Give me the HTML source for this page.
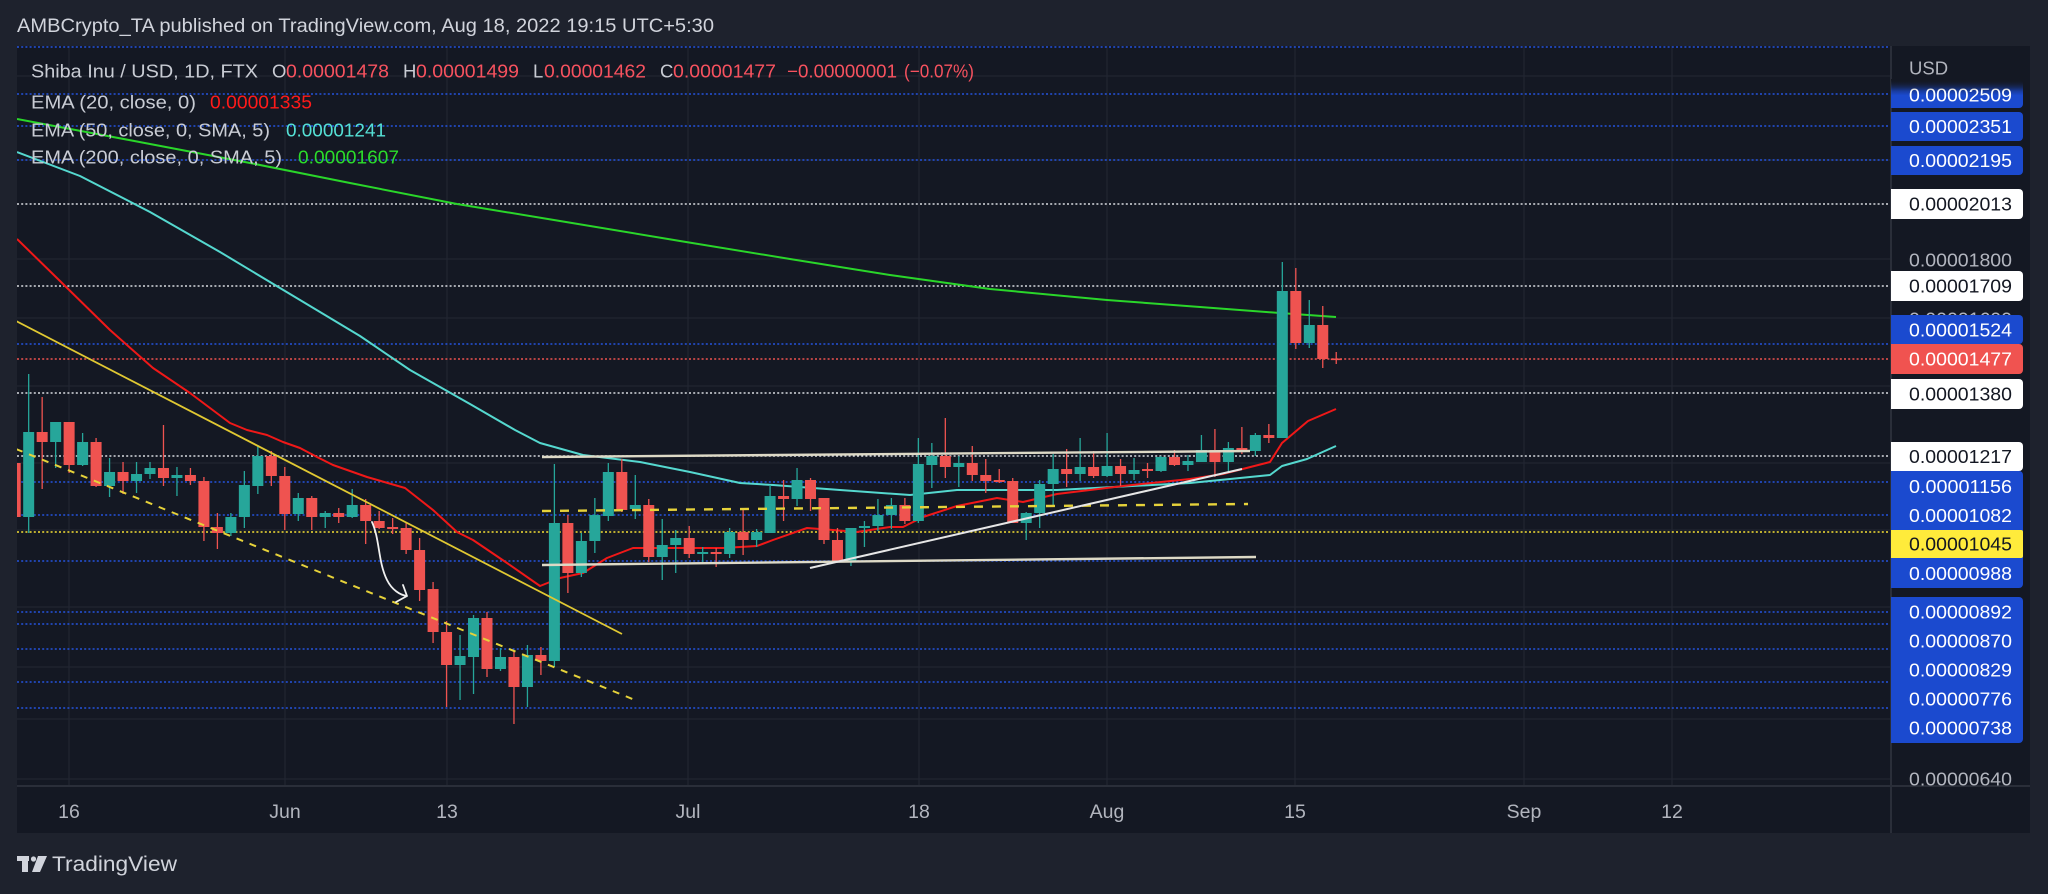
<!DOCTYPE html>
<html><head><meta charset="utf-8"><style>
html,body{margin:0;padding:0;background:#1e222d;}
svg{display:block;}
text{font-family:"Liberation Sans",sans-serif;}
</style></head><body>
<svg width="2048" height="894" viewBox="0 0 2048 894" xmlns="http://www.w3.org/2000/svg">
<defs>
<clipPath id="pane"><rect x="17" y="46" width="1874" height="740"/></clipPath>
<clipPath id="axis"><rect x="1891" y="46" width="139" height="740"/></clipPath>
<linearGradient id="fadeBlue" x1="0" y1="0" x2="0" y2="1">
<stop offset="0" stop-color="#1b4acf" stop-opacity="0"/>
<stop offset="0.55" stop-color="#1b4acf" stop-opacity="1"/>
<stop offset="1" stop-color="#1b4acf" stop-opacity="1"/>
</linearGradient>
<linearGradient id="fadeBg" x1="0" y1="0" x2="0" y2="1">
<stop offset="0" stop-color="#141823" stop-opacity="1"/>
<stop offset="1" stop-color="#141823" stop-opacity="0"/>
</linearGradient>
</defs>
<rect x="0" y="0" width="2048" height="894" fill="#1e222d"/>
<rect x="17" y="46" width="2013" height="787" fill="#141823"/>

<!-- header -->
<text x="17" y="32" font-size="19.5" fill="#d1d4dc" textLength="697" lengthAdjust="spacingAndGlyphs">AMBCrypto_TA published on TradingView.com, Aug 18, 2022 19:15 UTC+5:30</text>

<g clip-path="url(#pane)">
<!-- grid -->
<g stroke="#232733" stroke-width="1">
<line x1="69" y1="46" x2="69" y2="786"/><line x1="285" y1="46" x2="285" y2="786"/><line x1="447" y1="46" x2="447" y2="786"/><line x1="688" y1="46" x2="688" y2="786"/><line x1="919" y1="46" x2="919" y2="786"/><line x1="1107" y1="46" x2="1107" y2="786"/><line x1="1295" y1="46" x2="1295" y2="786"/><line x1="1524" y1="46" x2="1524" y2="786"/><line x1="1672" y1="46" x2="1672" y2="786"/>
<line x1="17" y1="76" x2="1891" y2="76"/><line x1="17" y1="160" x2="1891" y2="160"/><line x1="17" y1="259" x2="1891" y2="259"/><line x1="17" y1="318" x2="1891" y2="318"/><line x1="17" y1="386" x2="1891" y2="386"/><line x1="17" y1="463" x2="1891" y2="463"/><line x1="17" y1="530" x2="1891" y2="530"/><line x1="17" y1="607" x2="1891" y2="607"/><line x1="17" y1="667" x2="1891" y2="667"/><line x1="17" y1="719" x2="1891" y2="719"/><line x1="17" y1="779" x2="1891" y2="779"/>
</g>
<!-- dotted horizontal lines -->
<g stroke="#2453dc" stroke-width="1.6" stroke-dasharray="2 2.2">
<line x1="17" y1="47" x2="1891" y2="47"/>
<line x1="17" y1="94" x2="1891" y2="94"/>
<line x1="17" y1="126" x2="1891" y2="126"/>
<line x1="17" y1="160" x2="1891" y2="160"/>
<line x1="17" y1="344" x2="1891" y2="344"/>
<line x1="17" y1="482" x2="1891" y2="482"/>
<line x1="17" y1="515" x2="1891" y2="515"/>
<line x1="17" y1="561" x2="1891" y2="561"/>
<line x1="17" y1="612" x2="1891" y2="612"/>
<line x1="17" y1="624" x2="1891" y2="624"/>
<line x1="17" y1="649" x2="1891" y2="649"/>
<line x1="17" y1="682" x2="1891" y2="682"/>
<line x1="17" y1="708" x2="1891" y2="708"/>
</g>
<g stroke="#d8dae0" stroke-width="1.6" stroke-dasharray="2 2.2">
<line x1="17" y1="204" x2="1891" y2="204"/>
<line x1="17" y1="286" x2="1891" y2="286"/>
<line x1="17" y1="393" x2="1891" y2="393"/>
<line x1="17" y1="456" x2="1891" y2="456"/>
</g>
<line x1="17" y1="359" x2="1891" y2="359" stroke="#ef5350" stroke-width="1.4" stroke-dasharray="2 2.2"/>
<line x1="17" y1="532" x2="1891" y2="532" stroke="#f5e035" stroke-width="1.6" stroke-dasharray="2 2.2"/>

<!-- EMAs -->
<g fill="none" stroke-width="2" stroke-linejoin="round">
<path stroke="#2ad62a" d="M17 119 L129 140 L250 163 L350 183 L457 204 L560 221 L680 241 L790 259 L890 275 L990 289 L1107 300 L1200 307 L1280 313 L1336 317"/>
<path stroke="#55d8cf" d="M17 152 L80 176 L150 212 L220 252 L300 300 L360 336 L410 370 L470 404 L515 430 L540 443 L583 455 L640 462 L690 472 L740 483 L773 485 L840 490 L910 495 L957 490 L1057 490 L1190 483 L1270 475 L1282 466 L1307 459 L1336 446"/>
<path stroke="#f01818" d="M17 239 L60 281 L110 330 L153 368 L190 393 L230 423 L247 430 L267 435 L283 442 L300 448 L317 457 L333 465 L367 477 L405 488 L433 510 L457 532 L473 540 L507 563 L540 586 L560 578 L583 573 L607 558 L633 548 L723 548 L757 546 L773 540 L807 528 L833 530 L857 532 L890 527 L903 527 L923 517 L957 506 L997 498 L1023 502 L1057 494 L1123 486 L1190 479 L1223 474 L1270 462 L1282 443 L1308 421 L1336 409"/>
</g>

<!-- teal candles -->
<path fill="none" stroke="#26a69a" stroke-width="1.3" d="M28.68 374V533M55.64 422V468M82.6 433V466M109.56 458V497M136.52 462V493M150 462V479M176.96 467V496M230.88 513V536M244.36 471V528M257.84 445V494M298.28 493V521M325.24 511V528M352.2 489V518M460.04 635V700M473.52 615V694M500.48 648V671M527.44 645V707M554.4 464V667M581.36 533V577M594.84 498V553M608.32 463V521M635.28 475V519M662.24 519V580M675.72 530V573M702.68 547V562M729.64 528V558M756.6 529V547M770.08 485V533M797.04 468V506M850.96 528V566M864.44 521V547M877.92 499V531M891.4 498V529M918.36 438V523M931.84 443V488M958.8 456V487M1026.2 512V540M1039.68 480V528M1053.16 454V506M1080.12 438V481M1107.08 433V477M1134.04 458V480M1161 456V472M1187.96 455V471M1201.44 435V462M1228.4 442V472M1255.36 433V456M1282.32 262V438M1309.28 300V348"/>
<g fill="#26a69a">
<rect x="23.18" y="432" width="11" height="85"/><rect x="50.14" y="422" width="11" height="20"/><rect x="77.1" y="442" width="11" height="23"/><rect x="104.06" y="472" width="11" height="14"/><rect x="131.02" y="474" width="11" height="7"/><rect x="144.5" y="468" width="11" height="6"/><rect x="171.46" y="475" width="11" height="3"/><rect x="225.38" y="517" width="11" height="16"/><rect x="238.86" y="485" width="11" height="32"/><rect x="252.34" y="456" width="11" height="30"/><rect x="292.78" y="498" width="11" height="16"/><rect x="319.74" y="513" width="11" height="4"/><rect x="346.7" y="505" width="11" height="12"/><rect x="454.54" y="656" width="11" height="9"/><rect x="468.02" y="618" width="11" height="39"/><rect x="494.98" y="657" width="11" height="12"/><rect x="521.94" y="655" width="11" height="32"/><rect x="548.9" y="523" width="11" height="138"/><rect x="575.86" y="541" width="11" height="32"/><rect x="589.34" y="515" width="11" height="26"/><rect x="602.82" y="472" width="11" height="44"/><rect x="629.78" y="505" width="11" height="4"/><rect x="656.74" y="545" width="11" height="12"/><rect x="670.22" y="538" width="11" height="7"/><rect x="697.18" y="552" width="11" height="2"/><rect x="724.14" y="532" width="11" height="22"/><rect x="751.1" y="532" width="11" height="8"/><rect x="764.58" y="496" width="11" height="37"/><rect x="791.54" y="480" width="11" height="19"/><rect x="845.46" y="528" width="11" height="33"/><rect x="858.94" y="526" width="11" height="2"/><rect x="872.42" y="515" width="11" height="11"/><rect x="885.9" y="505" width="11" height="10"/><rect x="912.86" y="464" width="11" height="57"/><rect x="926.34" y="456" width="11" height="9"/><rect x="953.3" y="463" width="11" height="4"/><rect x="1020.7" y="513" width="11" height="10"/><rect x="1034.18" y="484" width="11" height="29"/><rect x="1047.66" y="469" width="11" height="15"/><rect x="1074.62" y="467" width="11" height="7"/><rect x="1101.58" y="466" width="11" height="10"/><rect x="1128.54" y="470" width="11" height="4"/><rect x="1155.5" y="457" width="11" height="14"/><rect x="1182.46" y="461" width="11" height="4"/><rect x="1195.94" y="450" width="11" height="12"/><rect x="1222.9" y="448" width="11" height="14"/><rect x="1249.86" y="435" width="11" height="16"/><rect x="1276.82" y="291" width="11" height="147"/><rect x="1303.78" y="325" width="11" height="18"/>
</g>
<!-- red candles -->
<path fill="none" stroke="#ef5350" stroke-width="1.3" d="M15.2 455V525M42.16 397V489M69.12 422V473M96.08 438V487M123.04 462V494M163.48 425V486M190.44 468V485M203.92 477V541M217.4 513V549M271.32 451V486M284.8 467V530M311.76 496V530M338.72 508V523M365.68 499V544M379.16 511V529M392.64 518V534M406.12 523V554M419.6 538V601M433.08 582V643M446.56 621V707M487 612V677M513.96 651V724M540.92 647V675M567.88 515V593M621.8 459V512M648.76 499V562M689.2 526V558M716.16 548V567M743.12 509V555M783.56 480V521M810.52 478V511M824 498V544M837.48 528V562M904.88 498V524M945.32 418V478M972.28 446V481M985.76 459V493M999.24 469V483M1012.72 478V523M1066.64 449V487M1093.6 451V478M1120.56 459V486M1147.52 463V478M1174.48 450V466M1214.92 429V477M1241.88 427V454M1268.84 424V443M1295.8 268V349M1322.76 306V368M1336.24 352V364"/>
<g fill="#ef5350">
<rect x="9.7" y="463" width="11" height="54"/><rect x="36.66" y="432" width="11" height="10"/><rect x="63.62" y="422" width="11" height="43"/><rect x="90.58" y="442" width="11" height="44"/><rect x="117.54" y="472" width="11" height="9"/><rect x="157.98" y="468" width="11" height="10"/><rect x="184.94" y="475" width="11" height="6"/><rect x="198.42" y="481" width="11" height="46"/><rect x="211.9" y="527" width="11" height="6"/><rect x="265.82" y="456" width="11" height="20"/><rect x="279.3" y="476" width="11" height="38"/><rect x="306.26" y="498" width="11" height="19"/><rect x="333.22" y="513" width="11" height="4"/><rect x="360.18" y="505" width="11" height="16"/><rect x="373.66" y="521" width="11" height="7"/><rect x="387.14" y="527" width="11" height="2"/><rect x="400.62" y="528" width="11" height="22"/><rect x="414.1" y="550" width="11" height="40"/><rect x="427.58" y="589" width="11" height="43"/><rect x="441.06" y="632" width="11" height="33"/><rect x="481.5" y="618" width="11" height="51"/><rect x="508.46" y="657" width="11" height="30"/><rect x="535.42" y="655" width="11" height="6"/><rect x="562.38" y="523" width="11" height="50"/><rect x="616.3" y="472" width="11" height="38"/><rect x="643.26" y="505" width="11" height="52"/><rect x="683.7" y="538" width="11" height="16"/><rect x="710.66" y="552" width="11" height="2"/><rect x="737.62" y="532" width="11" height="8"/><rect x="778.06" y="496" width="11" height="3"/><rect x="805.02" y="480" width="11" height="19"/><rect x="818.5" y="498" width="11" height="42"/><rect x="831.98" y="540" width="11" height="21"/><rect x="899.38" y="505" width="11" height="16"/><rect x="939.82" y="456" width="11" height="11"/><rect x="966.78" y="463" width="11" height="12"/><rect x="980.26" y="475" width="11" height="6"/><rect x="993.74" y="480" width="11" height="2"/><rect x="1007.22" y="481" width="11" height="42"/><rect x="1061.14" y="469" width="11" height="5"/><rect x="1088.1" y="467" width="11" height="9"/><rect x="1115.06" y="466" width="11" height="8"/><rect x="1142.02" y="469" width="11" height="2"/><rect x="1168.98" y="457" width="11" height="8"/><rect x="1209.42" y="450" width="11" height="12"/><rect x="1236.38" y="448" width="11" height="4"/><rect x="1263.34" y="435" width="11" height="3"/><rect x="1290.3" y="291" width="11" height="52"/><rect x="1317.26" y="325" width="11" height="34"/><rect x="1330.74" y="358.5" width="11" height="1.6"/>
</g>

<!-- drawings -->
<line x1="16" y1="321" x2="622" y2="634" stroke="#e0c832" stroke-width="1.8"/>
<line x1="16" y1="449" x2="635" y2="700" stroke="#e6d23a" stroke-width="2" stroke-dasharray="7 7"/>
<line x1="542" y1="511" x2="1248" y2="504" stroke="#e6d23a" stroke-width="2.4" stroke-dasharray="9 9"/>
<line x1="542" y1="457" x2="1250" y2="451" stroke="#ddd9c6" stroke-width="2.4"/>
<line x1="542" y1="565" x2="1256" y2="557" stroke="#ddd9c6" stroke-width="2.4"/>
<line x1="810" y1="568" x2="1242" y2="469" stroke="#e6e6e6" stroke-width="2"/>
<path d="M372 522 C380 540 378 562 387 580 C392 590 400 595 407 596 M403 585 L407 596 L396 602" fill="none" stroke="#f0f0f0" stroke-width="1.8" stroke-linecap="round" stroke-linejoin="round"/>
</g>

<!-- borders -->
<line x1="17" y1="786" x2="2030" y2="786" stroke="#2a2e39" stroke-width="2"/>
<line x1="1891" y1="46" x2="1891" y2="833" stroke="#2a2e39" stroke-width="2"/>

<!-- legend -->
<g font-size="18.5">
<text x="31" y="77.5" fill="#c9ccd4" textLength="227" lengthAdjust="spacingAndGlyphs">Shiba Inu / USD, 1D, FTX</text>
<text x="272" y="77.5" fill="#c9ccd4">O</text>
<text x="286" y="77.5" fill="#f7525f" textLength="103" lengthAdjust="spacingAndGlyphs">0.00001478</text>
<text x="403" y="77.5" fill="#c9ccd4">H</text>
<text x="416" y="77.5" fill="#f7525f" textLength="103" lengthAdjust="spacingAndGlyphs">0.00001499</text>
<text x="533" y="77.5" fill="#c9ccd4">L</text>
<text x="544" y="77.5" fill="#f7525f" textLength="102" lengthAdjust="spacingAndGlyphs">0.00001462</text>
<text x="660" y="77.5" fill="#c9ccd4">C</text>
<text x="673" y="77.5" fill="#f7525f" textLength="103" lengthAdjust="spacingAndGlyphs">0.00001477</text>
<text x="787" y="77.5" fill="#f7525f" textLength="110" lengthAdjust="spacingAndGlyphs">−0.00000001</text>
<text x="904" y="77.5" fill="#f7525f" textLength="70" lengthAdjust="spacingAndGlyphs">(−0.07%)</text>
<text x="31" y="108.5" fill="#c9ccd4" textLength="165" lengthAdjust="spacingAndGlyphs">EMA (20, close, 0)</text>
<text x="210" y="108.5" fill="#ff1a1a" textLength="102" lengthAdjust="spacingAndGlyphs">0.00001335</text>
<text x="31" y="136.5" fill="#c9ccd4" textLength="239" lengthAdjust="spacingAndGlyphs">EMA (50, close, 0, SMA, 5)</text>
<text x="286" y="136.5" fill="#55e0d5" textLength="100" lengthAdjust="spacingAndGlyphs">0.00001241</text>
<text x="31" y="163.5" fill="#c9ccd4" textLength="251" lengthAdjust="spacingAndGlyphs">EMA (200, close, 0, SMA, 5)</text>
<text x="298" y="163.5" fill="#2bdc2b" textLength="101" lengthAdjust="spacingAndGlyphs">0.00001607</text>
</g>

<!-- price axis -->
<g clip-path="url(#axis)" font-size="18.5">
<text x="1909" y="74.5" fill="#b2b5be">USD</text>
<text x="1909" y="266.5" fill="#b2b5be" textLength="103" lengthAdjust="spacingAndGlyphs">0.00001800</text>
<text x="1909" y="325.5" fill="#b2b5be" textLength="103" lengthAdjust="spacingAndGlyphs">0.00001600</text>
<text x="1909" y="785.5" fill="#b2b5be" textLength="103" lengthAdjust="spacingAndGlyphs">0.00000640</text>

<rect x="1887" y="80" width="136" height="28" rx="4" fill="url(#fadeBlue)"/>
<text x="1909" y="101.5" fill="#ffffff" textLength="103" lengthAdjust="spacingAndGlyphs">0.00002509</text>
<rect x="1891" y="79" width="135" height="12" fill="url(#fadeBg)"/>

<rect x="1887" y="112" width="136" height="29" rx="4" fill="#1b4acf"/>
<text x="1909" y="133" fill="#ffffff" textLength="103" lengthAdjust="spacingAndGlyphs">0.00002351</text>
<rect x="1887" y="146" width="136" height="29" rx="4" fill="#1b4acf"/>
<text x="1909" y="167" fill="#ffffff" textLength="103" lengthAdjust="spacingAndGlyphs">0.00002195</text>
<rect x="1887" y="189" width="136" height="30" rx="4" fill="#ffffff"/>
<text x="1909" y="210.5" fill="#131722" textLength="103" lengthAdjust="spacingAndGlyphs">0.00002013</text>
<rect x="1887" y="271" width="136" height="30" rx="4" fill="#ffffff"/>
<text x="1909" y="292.5" fill="#131722" textLength="103" lengthAdjust="spacingAndGlyphs">0.00001709</text>
<rect x="1887" y="315" width="136" height="29" rx="4" fill="#1b4acf"/>
<text x="1909" y="336.5" fill="#ffffff" textLength="103" lengthAdjust="spacingAndGlyphs">0.00001524</text>
<rect x="1887" y="344" width="136" height="30" rx="4" fill="#f05350"/>
<text x="1909" y="365.5" fill="#ffffff" textLength="103" lengthAdjust="spacingAndGlyphs">0.00001477</text>
<rect x="1887" y="379" width="136" height="30" rx="4" fill="#ffffff"/>
<text x="1909" y="400.5" fill="#131722" textLength="103" lengthAdjust="spacingAndGlyphs">0.00001380</text>
<rect x="1887" y="442" width="136" height="29" rx="4" fill="#ffffff"/>
<text x="1909" y="463" fill="#131722" textLength="103" lengthAdjust="spacingAndGlyphs">0.00001217</text>
<rect x="1887" y="471" width="136" height="117" rx="4" fill="#1b4acf"/>
<text x="1909" y="493" fill="#ffffff" textLength="103" lengthAdjust="spacingAndGlyphs">0.00001156</text>
<text x="1909" y="522" fill="#ffffff" textLength="103" lengthAdjust="spacingAndGlyphs">0.00001082</text>
<rect x="1887" y="530" width="136" height="28" rx="2" fill="#ffeb3b"/>
<text x="1909" y="550.5" fill="#131722" textLength="103" lengthAdjust="spacingAndGlyphs">0.00001045</text>
<text x="1909" y="580" fill="#ffffff" textLength="103" lengthAdjust="spacingAndGlyphs">0.00000988</text>
<rect x="1887" y="597" width="136" height="146" rx="4" fill="#1b4acf"/>
<text x="1909" y="618.5" fill="#ffffff" textLength="103" lengthAdjust="spacingAndGlyphs">0.00000892</text>
<text x="1909" y="647.5" fill="#ffffff" textLength="103" lengthAdjust="spacingAndGlyphs">0.00000870</text>
<text x="1909" y="676.5" fill="#ffffff" textLength="103" lengthAdjust="spacingAndGlyphs">0.00000829</text>
<text x="1909" y="705.5" fill="#ffffff" textLength="103" lengthAdjust="spacingAndGlyphs">0.00000776</text>
<text x="1909" y="734.5" fill="#ffffff" textLength="103" lengthAdjust="spacingAndGlyphs">0.00000738</text>
</g>

<!-- time axis -->
<g font-size="19.5" fill="#b2b5be" text-anchor="middle">
<text x="69" y="818">16</text>
<text x="285" y="818">Jun</text>
<text x="447" y="818">13</text>
<text x="688" y="818">Jul</text>
<text x="919" y="818">18</text>
<text x="1107" y="818">Aug</text>
<text x="1295" y="818">15</text>
<text x="1524" y="818">Sep</text>
<text x="1672" y="818">12</text>
</g>

<!-- footer logo -->
<g fill="#d1d4dc">
<rect x="17" y="856" width="12" height="5"/>
<rect x="22" y="856" width="6" height="16"/>
<circle cx="33.5" cy="859" r="2.6"/>
<polygon points="38,856 47,856 40,872 32,872"/>
</g>
<text x="52" y="871" font-size="21" fill="#d1d4dc" textLength="125" lengthAdjust="spacingAndGlyphs">TradingView</text>
</svg>
</body></html>
